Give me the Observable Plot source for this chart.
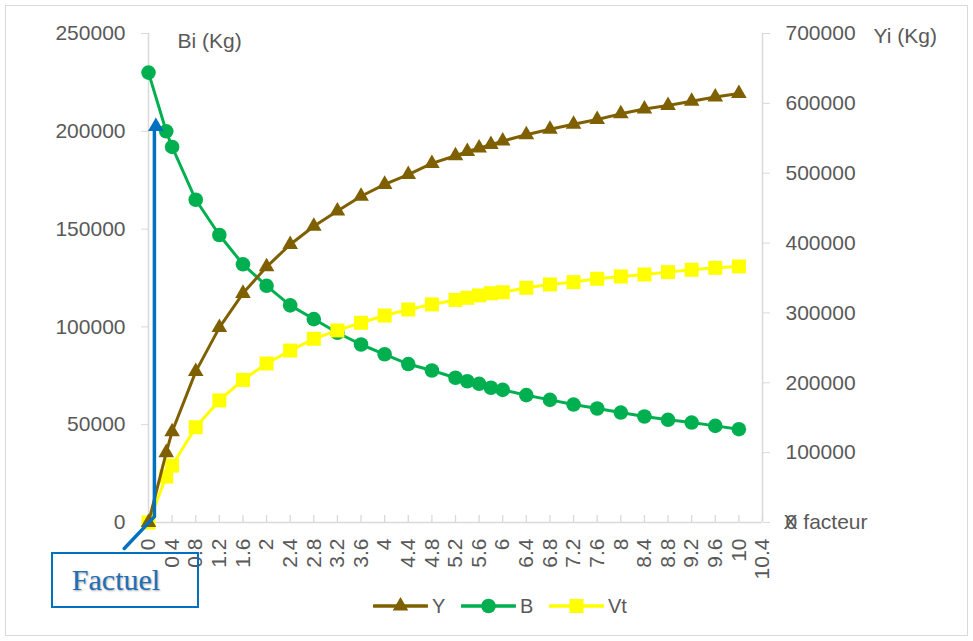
<!DOCTYPE html>
<html>
<head>
<meta charset="utf-8">
<script src="https://cdn.jsdelivr.net/npm/d3@7"></script>
<script src="https://cdn.jsdelivr.net/npm/@observablehq/plot@0.6"></script>
<style>
  body { margin: 0; background: #fff; font-family: "Liberation Sans", Arial, sans-serif; }
  #wrap { position: relative; width: 973px; height: 641px; overflow: hidden; background: #fff; }
  #frame { position: absolute; left: 5px; top: 5px; width: 963px; height: 631px; border: 1.5px solid #d9d9d9; box-sizing: border-box; }
  #chart { position: absolute; left: 0; top: 0; }
  .leg { position: absolute; top: 595px; height: 22px; display: flex; align-items: center; font-size: 20px; color: #595959; }
  .leg svg { display: block; margin-right: 4px; }
  #factuel { position: absolute; left: 51px; top: 552px; width: 148px; height: 56px; border: 2.2px solid #0070c0; box-sizing: border-box;
    font-family: "Liberation Serif", "Times New Roman", serif; font-size: 30px; color: #1f6fb8; display: flex; align-items: center; justify-content: center;
    text-shadow: 1px 1px 2px rgba(0,0,0,0.35); padding-right: 18px; }
</style>
</head>
<body>
<div id="wrap">
  <div id="frame"></div>
  <div id="chart"></div>
  <div id="legend"></div>
  <div id="factuel">Factuel</div>
</div>
<script>
// ---- data ----
const xFacteur = [0, 0.3, 0.4, 0.8, 1.2, 1.6, 2, 2.4, 2.8, 3.2, 3.6, 4, 4.4, 4.8, 5.2, 5.4, 5.6, 5.8, 6, 6.4, 6.8, 7.2, 7.6, 8, 8.4, 8.8, 9.2, 9.6, 10];
const seriesY  = [0, 100000, 130000, 216000, 279000, 328000, 366000, 398000, 424000, 446000, 467000, 484000, 498000, 514000, 525000, 531000, 536000, 541000, 546000, 555000, 563000, 570000, 577000, 585000, 592000, 597000, 603000, 609000, 614000];
const seriesB  = [230000, 200000, 192000, 165000, 147000, 132000, 121000, 111000, 104000, 97000, 91000, 86000, 81000, 77700, 74000, 72200, 70900, 68900, 67800, 65100, 62700, 60300, 58300, 56200, 54200, 52500, 51100, 49400, 47700];
const seriesVt = [0, 23500, 29100, 48700, 62400, 72900, 81300, 87900, 93900, 98200, 102100, 105800, 108900, 111500, 113800, 114900, 116100, 117200, 117700, 120000, 121700, 122900, 124600, 125800, 126800, 128000, 129200, 130200, 130900];

const xTicks = d3.range(0, 27).map(i => +(i * 0.4).toFixed(1));
const leftTicks = [0, 50000, 100000, 150000, 200000, 250000];
const rightTicks = [0, 100000, 200000, 300000, 400000, 500000, 600000, 700000];
const leftMax = 250000, rightMax = 700000;

const seriesNames = ["Y", "B", "Vt"];
const seriesColors = ["#7f6000", "#00b050", "#ffff00"];
const seriesSymbols = ["triangle", "circle", "square"];

// annotation "Factuel" arrow (data coordinates)
const factuelPath = [[-0.41, -13300], [0.1, 3000], [0.1, 200000]];
const factuelHead = [[0.125, 202500]];

const axisTitles = [
  {x: 0, y: leftMax, text: "Bi (Kg)", dx: 29, dy: 8},
  {x: 10.4, y: leftMax, text: "Yi (Kg)", dx: 111, dy: 3},
  {x: 10.4, y: 0, text: "X facteur", dx: 21, dy: 0}
];

// ---- build ----
const k = leftMax / rightMax;
const rows = xFacteur.map((x, i) => ({x, Y: seriesY[i] * k, B: seriesB[i], Vt: seriesVt[i]}));
const grey = "#d9d9d9", txt = "#595959";
const font = "Liberation Sans, Arial, sans-serif";
const fs = 21;

const chart = Plot.plot({
  width: 973, height: 590,
  marginLeft: 148, marginRight: 211, marginTop: 33, marginBottom: 68,
  x: {domain: [0, 10.4]},
  y: {domain: [0, leftMax]},
  style: {fontFamily: font, fontSize: fs + "px", color: txt, background: "transparent", overflow: "visible"},
  marks: [
    Plot.ruleY([0], {stroke: grey, strokeWidth: 1.5}),
    Plot.ruleX([0, 10.4], {stroke: grey, strokeWidth: 1.5}),
    Plot.ruleX(xTicks, {x: d => d, y1: 0, y2: 3600, stroke: grey, strokeWidth: 1.3}),
    Plot.axisY({anchor: "left", ticks: leftTicks, tickSize: 7, tickPadding: 16, tickFormat: d => String(d),
      stroke: grey, fill: txt, fontSize: fs, label: null}),
    Plot.axisY({anchor: "right", ticks: rightTicks.map(t => t * k), tickSize: 7, tickPadding: 16,
      tickFormat: d => String(Math.round(d / k)), stroke: grey, fill: txt, fontSize: fs, label: null}),
    Plot.axisX({ticks: xTicks, tickSize: 0, tickPadding: 16, tickRotate: -90,
      tickFormat: d => String(+d.toFixed(1)), fill: txt, fontSize: fs, label: null}),
    ...axisTitles.map(t => Plot.text([t], {x: "x", y: "y", text: "text", dx: t.dx, dy: t.dy, textAnchor: "start", fill: txt, fontSize: fs})),
    // series B
    Plot.line(rows, {x: "x", y: "B", stroke: seriesColors[1], strokeWidth: 3}),
    Plot.dot(rows, {x: "x", y: "B", symbol: "circle", r: 7.3, fill: seriesColors[1]}),
    // series Vt
    Plot.line(rows, {x: "x", y: "Vt", stroke: seriesColors[2], strokeWidth: 3}),
    Plot.dot(rows, {x: "x", y: "Vt", symbol: "square", r: 7.9, fill: seriesColors[2]}),
    // series Y (secondary axis)
    Plot.line(rows, {x: "x", y: "Y", stroke: seriesColors[0], strokeWidth: 3}),
    Plot.dot(rows, {x: "x", y: "Y", symbol: "triangle", r: 5.8, fill: seriesColors[0]}),
    // Factuel arrow
    Plot.line(factuelPath, {x: d => d[0], y: d => d[1], stroke: "#0070c0", strokeWidth: 3.5}),
    Plot.dot(factuelHead, {x: d => d[0], y: d => d[1], symbol: "triangle", r: 5.8, fill: "#0070c0"})
  ]
});
document.getElementById("chart").appendChild(chart);

// legend
const legendLeft = [373, 461, 549];
const legend = document.getElementById("legend");
seriesNames.forEach((name, i) => {
  const item = document.createElement("div");
  item.className = "leg";
  item.style.left = legendLeft[i] + "px";
  const sym = d3.symbol(seriesSymbols[i] === "triangle" ? d3.symbolTriangle : seriesSymbols[i] === "circle" ? d3.symbolCircle : d3.symbolSquare,
    seriesSymbols[i] === "triangle" ? Math.PI * 5.8 * 5.8 : seriesSymbols[i] === "circle" ? Math.PI * 7.3 * 7.3 : Math.PI * 7.9 * 7.9)();
  item.innerHTML = `<svg width="55" height="22"><line x1="1" x2="54" y1="11" y2="11" stroke="${seriesColors[i]}" stroke-width="3.5" stroke-linecap="round"/>` +
    `<path transform="translate(27.5,11)" d="${sym}" fill="${seriesColors[i]}"/></svg><span>${name}</span>`;
  legend.appendChild(item);
});
</script>
</body>
</html>
